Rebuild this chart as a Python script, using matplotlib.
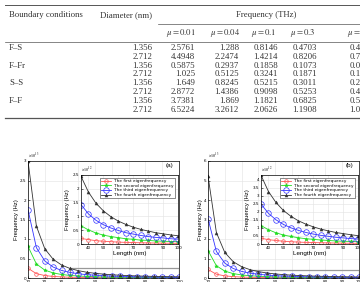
import matplotlib
matplotlib.use("Agg")
import matplotlib.pyplot as plt
from matplotlib.lines import Line2D
from matplotlib.patches import Rectangle
from matplotlib.ticker import FuncFormatter
import numpy as np

# ---- table data ----
conditions = ["F–S", "F–Fr", "S–S", "F–F"]
diameters = ["1.356", "2.712"]
mu_labels = [r"$\mu = 0.01$", r"$\mu = 0.04$", r"$\mu = 0.1$", r"$\mu = 0.3$", r"$\mu = 0.4$"]
freq_table = [
    ["2.5761", "1.288", "0.8146", "0.4703", "0.4073"],
    ["4.4948", "2.2474", "1.4214", "0.8206", "0.7107"],
    ["0.5875", "0.2937", "0.1858", "0.1073", "0.0929"],
    ["1.025", "0.5125", "0.3241", "0.1871", "0.1620"],
    ["1.649", "0.8245", "0.5215", "0.3011", "0.2608"],
    ["2.8772", "1.4386", "0.9098", "0.5253", "0.4549"],
    ["3.7381", "1.869", "1.1821", "0.6825", "0.5911"],
    ["6.5224", "3.2612", "2.0626", "1.1908", "1.0313"],
]

# ---- curve data (lengths in nm, frequencies in units of 1e12 Hz) ----
length = [10, 15, 20, 25, 30, 35, 40, 45, 50, 55, 60, 65, 70, 75, 80, 85, 90, 95, 100]
first_a = [2.5, 1.11, 0.63, 0.4, 0.28, 0.2, 0.16, 0.12, 0.1, 0.083, 0.069, 0.059, 0.051, 0.044, 0.039, 0.035, 0.031, 0.028, 0.025]
second_a = [8.1, 3.6, 2.03, 1.3, 0.9, 0.66, 0.51, 0.4, 0.32, 0.27, 0.23, 0.19, 0.17, 0.14, 0.13, 0.11, 0.1, 0.09, 0.081]
third_a = [17.5, 7.78, 4.38, 2.8, 1.94, 1.43, 1.09, 0.86, 0.7, 0.58, 0.49, 0.41, 0.36, 0.31, 0.27, 0.24, 0.22, 0.19, 0.175]
fourth_a = [30, 13.3, 7.5, 4.8, 3.33, 2.45, 1.88, 1.48, 1.2, 0.99, 0.83, 0.71, 0.61, 0.53, 0.47, 0.41, 0.37, 0.33, 0.3]
first_b = [4.36, 1.94, 1.09, 0.7, 0.48, 0.36, 0.27, 0.22, 0.17, 0.14, 0.12, 0.1, 0.089, 0.078, 0.068, 0.06, 0.054, 0.048, 0.044]
second_b = [14.1, 6.28, 3.54, 2.26, 1.57, 1.15, 0.89, 0.7, 0.56, 0.47, 0.39, 0.33, 0.29, 0.25, 0.22, 0.19, 0.17, 0.16, 0.14]
third_b = [30.5, 13.6, 7.63, 4.88, 3.39, 2.49, 1.91, 1.51, 1.22, 1.01, 0.85, 0.72, 0.62, 0.54, 0.48, 0.42, 0.38, 0.34, 0.305]
fourth_b = [52.4, 23.3, 13.1, 8.38, 5.82, 4.28, 3.27, 2.59, 2.09, 1.73, 1.45, 1.24, 1.07, 0.93, 0.82, 0.72, 0.65, 0.58, 0.52]
legend_names = ["The first eigenfrequency", "The second eigenfrequency",
                "The third eigenfrequency", "The fourth eigenfrequency"]

W, H = 360, 282
fig = plt.figure(figsize=(W / 100, H / 100), dpi=100)
fig.patch.set_facecolor("white")
plt.rcParams["mathtext.fontset"] = "stix"


def fx(x):
    return x / W


def fy(y):
    return 1 - y / H


def hline(y, x0, x1, lw=0.7):
    fig.add_artist(Line2D([fx(x0), fx(x1)], [fy(y), fy(y)], transform=fig.transFigure,
                          color="#555555", lw=lw))


# ---- table ----
serif = "Liberation Serif"
tfs = 6.3
tcol = "#333333"
hline(5, 5, 360)
hline(24, 158, 360, lw=0.5)
hline(41.5, 5, 360, lw=0.5)
hline(118, 5, 360, lw=0.9)
fig.text(fx(9), fy(15), "Boundary conditions", family=serif, fontsize=tfs, va="center", color=tcol)
fig.text(fx(152), fy(15), "Diameter (nm)", family=serif, fontsize=tfs, va="center", ha="right", color=tcol)
fig.text(fx(266), fy(15), "Frequency (THz)", family=serif, fontsize=tfs, va="center", ha="center", color=tcol)

col_right = [195, 239, 278, 317, 374]
for j, lab in enumerate(mu_labels):
    fig.text(fx(col_right[j] - 14), fy(33), lab, fontsize=tfs, va="center", ha="center", color=tcol)

for i, row in enumerate(freq_table):
    y = 47.7 + 8.9 * i
    if i % 2 == 0:
        fig.text(fx(9), fy(y), conditions[i // 2], family=serif, fontsize=tfs, va="center", color=tcol)
    fig.text(fx(152), fy(y), diameters[i % 2], family=serif, fontsize=tfs, va="center", ha="right", color=tcol)
    for j, v in enumerate(row):
        fig.text(fx(col_right[j]), fy(y), v, family=serif, fontsize=tfs, va="center", ha="right", color=tcol)

# ---- charts ----
sans = "Liberation Sans"
styles = [
    dict(color="#ff5555", marker="o", ms=2.6, mfc="none", mew=0.5),
    dict(color="#22dd22", marker="*", ms=2.6, mew=0.4),
    dict(color="#3333ff", marker="o", ms=4.0, mfc="none", mew=0.5),
    dict(color="#333333", marker="^", ms=2.2, mew=0.3),
]


def style_axes(ax, scale, label, labelpad):
    ax.grid(True, color="#e2e2e2", lw=0.4)
    ax.set_axisbelow(True)
    ax.tick_params(direction="in", length=1.5, width=0.4, labelsize=3, pad=1.5)
    for s in ax.spines.values():
        s.set_linewidth(0.5)
    ax.yaxis.set_major_formatter(FuncFormatter(lambda v, p: "%g" % round(v / scale, 2)))
    ax.set_ylabel("Frequency (Hz)", family=sans, fontsize=4.2, labelpad=labelpad)
    ax.text(0.0, 1.01, label, transform=ax.transAxes, fontsize=3, va="bottom", ha="left")


def panel(x0, series, ymax, ytick_step, inset_ymax, inset_ticks, tag):
    L = np.array(length)
    ax = fig.add_axes([fx(x0), fy(278), fx(151), 117 / H])
    for vals, st in zip(series, styles):
        ax.plot(L, np.array(vals) * 1e12, lw=0.6, **st)
    ax.set_xlim(10, 100)
    ax.set_ylim(0, ymax * 1e13)
    ax.set_xticks(range(10, 101, 10))
    ax.set_yticks(np.arange(0, ymax + 0.01, ytick_step) * 1e13)
    style_axes(ax, 1e13, r"$\times10^{13}$", 0.5)
    ax.add_patch(Rectangle((35, 0), 65, inset_ymax * 1e12, fill=False, ec="#999999", lw=0.9))
    fig.text(fx(x0 + 145), fy(166), tag, family=sans, fontsize=4.5, ha="right", va="center")

    ins = fig.add_axes([fx(x0 + 53), fy(244), fx(97), 69 / H])
    for vals, st, name in zip(series, styles, legend_names):
        ins.plot(L[5:], np.array(vals[5:]) * 1e12, lw=0.6, label=name, **st)
    ins.set_xlim(35, 100)
    ins.set_ylim(0, inset_ymax * 1e12)
    ins.set_xticks(range(40, 101, 10))
    ins.set_yticks(np.array(inset_ticks) * 1e12)
    style_axes(ins, 1e12, r"$\times10^{12}$", 1.5)
    ins.set_xlabel("Length (nm)", family=sans, fontsize=4.5, labelpad=1)
    ins.legend(loc="upper right", bbox_to_anchor=(0.97, 0.96), fontsize=3.1, frameon=True,
               fancybox=False, edgecolor="#333333", framealpha=1, borderpad=0.3,
               handlelength=2.2, labelspacing=0.15, borderaxespad=0).get_frame().set_linewidth(0.4)


panel(28, [first_a, second_a, third_a, fourth_a], 3, 0.5, 2.5,
      [0, 0.5, 1, 1.5, 2, 2.5], "(a)")
panel(208, [first_b, second_b, third_b, fourth_b], 6, 1, 4.3,
      [0, 0.5, 1, 1.5, 2, 2.5, 3, 3.5, 4], "(b)")

fig.savefig("out.png", dpi=100)
